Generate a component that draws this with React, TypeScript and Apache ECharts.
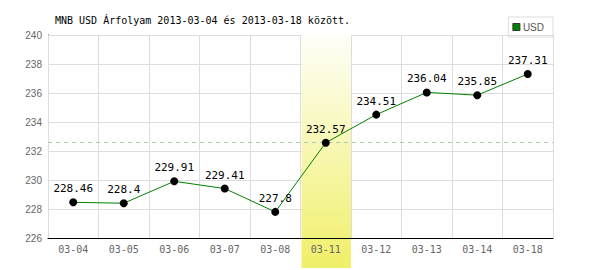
import React, { useEffect, useRef } from "react";
import * as echarts from "echarts";

const categories = ["03-04", "03-05", "03-06", "03-07", "03-08", "03-11", "03-12", "03-13", "03-14", "03-18"];
const usdValues = [228.46, 228.4, 229.91, 229.41, 227.8, 232.57, 234.51, 236.04, 235.85, 237.31];
const highlightCategory = "03-11";
const referenceValue = 232.57;
const titleText = "MNB USD Árfolyam 2013-03-04 és 2013-03-18 között.";
const seriesName = "USD";

export default function App() {
  const ref = useRef<HTMLDivElement>(null);
  useEffect(() => {
    if (!ref.current) return;
    const chart = echarts.init(ref.current, undefined, { renderer: "svg" });
    const mono = "DejaVu Sans Mono";
    const option: any = {
      animation: false,
      backgroundColor: "#fff",
      title: {
        text: titleText,
        left: 50,
        top: 10,
        textStyle: { fontFamily: mono, fontSize: 10, fontWeight: "normal", color: "#000" },
      },
      legend: {
        right: 47,
        top: 17,
        data: [{ name: seriesName, itemStyle: { color: "#008000", borderColor: "#333", borderWidth: 1 } }],
        icon: "rect",
        itemWidth: 7,
        itemHeight: 7,
        itemGap: 3,
        padding: [5, 9, 5, 4],
        borderColor: "#ddd",
        borderWidth: 1,
        textStyle: { fontFamily: "Liberation Sans", fontSize: 10, color: "#555", padding: [0, 0, 0, -2] },
      },
      grid: { left: 48, right: 47, top: 35, bottom: 32 },
      xAxis: {
        type: "category",
        data: categories,
        boundaryGap: true,
        z: 3,
        axisLine: { lineStyle: { color: "#000", width: 1 } },
        axisTick: { show: false },
        axisLabel: { fontFamily: mono, fontSize: 10, color: "#666", margin: 6 },
        splitLine: { show: true, lineStyle: { color: "#ddd", width: 1 } },
      },
      yAxis: {
        type: "value",
        min: 226,
        max: 240,
        interval: 2,
        z: 0,
        axisLine: { show: true, lineStyle: { color: "#000", width: 1 } },
        axisTick: { show: false },
        axisLabel: { fontFamily: "Liberation Sans", fontSize: 10, color: "#666", margin: 6 },
        splitLine: { show: true, lineStyle: { color: "#ddd", width: 1 } },
      },
      series: [
        {
          name: "ref",
          type: "line",
          data: usdValues,
          z: 0,
          showSymbol: false,
          lineStyle: { opacity: 0 },
          silent: true,
          markLine: {
            silent: true,
            symbol: "none",
            label: { show: false },
            lineStyle: { type: [4, 4], color: "#a8cca8", width: 1 },
            data: [{ yAxis: referenceValue }],
          },
        },
        {
          name: seriesName,
          type: "line",
          data: usdValues,
          z: 5,
          symbol: "circle",
          symbolSize: 8,
          itemStyle: { color: "#000" },
          lineStyle: { color: "#008000", width: 1 },
          label: {
            show: true,
            position: "top",
            distance: 4,
            fontFamily: mono,
            fontSize: 11,
            color: "#000",
          },
        },
      ],
    };
    chart.setOption(option);
    const idx = categories.indexOf(highlightCategory);
    const xc = chart.convertToPixel({ xAxisIndex: 0 }, categories[idx]) as number;
    const xn = chart.convertToPixel({ xAxisIndex: 0 }, categories[idx + 1]) as number;
    const half = (xn - xc) / 2;
    const yTop = chart.convertToPixel({ yAxisIndex: 0 }, 240) as number;
    const bottom = 268;
    chart.setOption({
      graphic: [
        {
          type: "rect",
          z: 1,
          silent: true,
          shape: { x: xc - half + 1, y: yTop, width: half * 2 - 1, height: bottom - yTop },
          style: {
            fill: new echarts.graphic.LinearGradient(0, 0, 0, 1, [
              { offset: 0, color: "#fefef8" },
              { offset: 1, color: "#f0ef68" },
            ]),
          },
        },
      ],
    });
    return () => chart.dispose();
  }, []);
  return <div ref={ref} style={{ position: "fixed", left: 0, top: 0, width: 600, height: 270 }} />;
}
